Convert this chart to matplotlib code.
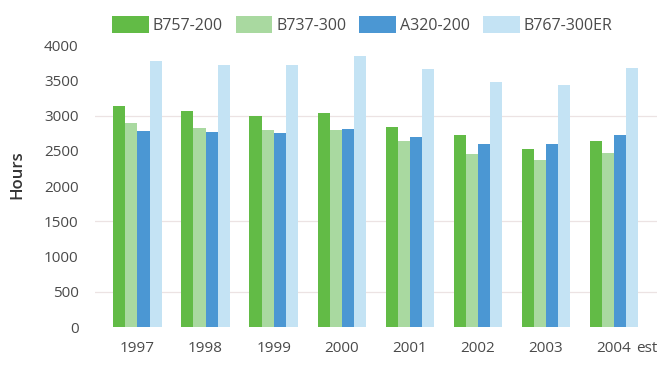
import matplotlib.pyplot as plt
import numpy as np

plt.rcParams.update({"font.family": ["Open Sans", "DejaVu Sans"], "font.size": 11})

years = ["1997", "1998", "1999", "2000", "2001", "2002", "2003", "2004"]
series = ["B757-200", "B737-300", "A320-200", "B767-300ER"]
b757 = [3140, 3070, 2990, 3040, 2840, 2720, 2530, 2640]
b737 = [2900, 2830, 2800, 2790, 2640, 2450, 2370, 2470]
a320 = [2780, 2770, 2750, 2810, 2690, 2590, 2590, 2720]
b767 = [3770, 3720, 3720, 3840, 3660, 3480, 3430, 3680]
colors = ["#62bb46", "#a9d9a0", "#4b97d3", "#c4e3f4"]
ink = "#4a4a4a"

fig = plt.figure(figsize=(6.57, 3.79), dpi=100)
ax = fig.add_axes([0.145, 0.137, 0.855, 0.744])

x = np.arange(len(years))
w = 0.178
for i, (vals, col) in enumerate(zip([b757, b737, a320, b767], colors)):
    ax.bar(x + (i - 1.5) * w, vals, w, color=col, label=series[i], zorder=3, linewidth=0)

ax.set_xlim(-0.62, 7.63)
ax.set_ylim(0, 4000)
ax.set_yticks(np.arange(0, 4001, 500))
ax.set_xticks(x)
ax.set_xticklabels(years)
for y in (500, 1500, 3000):
    ax.axhline(y, color="#ece3e3", lw=0.9, zorder=1)

for s in ax.spines.values():
    s.set_visible(False)
ax.tick_params(length=0, colors=ink, labelsize=11)
ax.tick_params(axis="x", pad=10)
ax.tick_params(axis="y", pad=12)
ax.annotate("est", xy=(x[-1], 0), xycoords=("data", "axes fraction"),
            xytext=(16, -10), textcoords="offset points", fontsize=11,
            color=ink, va="top", ha="left", annotation_clip=False)
fig.text(17.5 / 657, 1 - 175 / 379, "Hours", rotation=90, fontsize=12,
         fontweight="semibold", color="#333333", ha="center", va="center")

ax.legend(loc="lower left", bbox_to_anchor=(0.03, 1.04), ncol=4, frameon=False,
          handlelength=2.3, handleheight=1.2, handletextpad=0.25, columnspacing=0.8,
          fontsize=11.5, labelcolor=ink, borderaxespad=0, borderpad=0)

fig.savefig("out.png", dpi=100)
